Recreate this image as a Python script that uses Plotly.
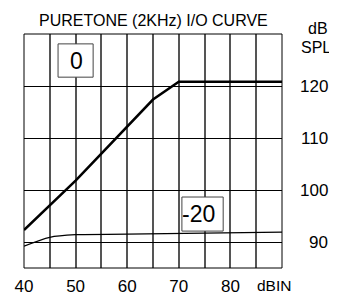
import plotly.graph_objects as go

# ---- data ----
x_in_0 = [40, 50, 65, 70, 90]
y_out_0 = [92.3, 101.8, 117.4, 120.8, 120.8]
x_in_m20 = [40, 45, 50, 60, 90]
y_out_m20 = [89.2, 90.9, 91.4, 91.5, 91.9]
x_ticks = [40, 50, 60, 70, 80]
x_tick_labels = ["40", "50", "60", "70", "80"]
y_ticks = [90, 100, 110, 120]
y_tick_labels = ["90", "100", "110", "120"]
curve_labels = ["0", "-20"]

# page body has an 8px margin, so the figure is laid out 8px up/left of the target
W, H = 329, 287
ml, mr, mt, mb = 16, 55, 26, 27
FONT = "Liberation Sans, Arial, Helvetica, sans-serif"

fig = go.Figure()
fig.add_trace(go.Scatter(x=x_in_0, y=y_out_0, mode="lines",
                         line=dict(color="black", width=2.5), showlegend=False))
fig.add_trace(go.Scatter(x=x_in_m20, y=y_out_m20, mode="lines",
                         line=dict(color="black", width=1.2, shape="spline", smoothing=0.8),
                         showlegend=False))

fig.update_layout(
    width=W, height=H,
    margin=dict(l=ml, r=mr, t=mt, b=mb),
    paper_bgcolor="white", plot_bgcolor="white",
    font=dict(family=FONT, size=16, color="black"),
    xaxis=dict(range=[40, 90], tickvals=x_ticks, ticktext=x_tick_labels,
               ticks="", showgrid=True, gridcolor="#555", gridwidth=1.5,
               minor=dict(dtick=5, tick0=40, showgrid=True, gridcolor="#555", gridwidth=1.5),
               showline=False, zeroline=False, tickfont=dict(size=17),
               ticklabelstandoff=6, automargin=False),
    yaxis=dict(range=[85, 130], tickvals=y_ticks, showticklabels=False, ticks="",
               showgrid=True, gridcolor="black", gridwidth=1,
               zeroline=False, showline=False, automargin=False),
)

# plot border
fig.add_shape(type="rect", xref="x domain", yref="y domain", x0=0, x1=1, y0=0, y1=1,
              line=dict(color="black", width=1), layer="above")

# right-hand value labels, right aligned, positioned on the y scale
for v, t in zip(y_ticks, y_tick_labels):
    fig.add_annotation(text=t, xref="paper", yref="y", x=1, y=v, xanchor="right",
                       xshift=48, showarrow=False, font=dict(size=17))

# label boxes
fig.add_shape(type="rect", xref="x", yref="y", x0=46.6, x1=53.4, y0=121.7, y1=128.1,
              line=dict(color="#444", width=1), fillcolor="white", layer="above")
fig.add_shape(type="rect", xref="x", yref="y", x0=70.6, x1=78.6, y0=92.1, y1=98.65,
              line=dict(color="#444", width=1), fillcolor="white", layer="above")
fig.add_annotation(text=curve_labels[0], xref="x", yref="y", x=50.2, y=124.75,
                   showarrow=False, font=dict(size=23))
fig.add_annotation(text=curve_labels[1], xref="x", yref="y", x=73.9, y=95.3,
                   showarrow=False, font=dict(size=23))

# title and axis captions
fig.add_annotation(text="PURETONE (2KHz) I/O CURVE", xref="x domain", yref="paper",
                   x=0.5, y=1, yanchor="middle", yshift=14, showarrow=False,
                   font=dict(size=16))
fig.add_annotation(text="dB", xref="paper", yref="paper", x=1, y=1, xanchor="center",
                   xshift=36, yanchor="middle", yshift=6, showarrow=False,
                   font=dict(size=16))
fig.add_annotation(text="SPL", xref="paper", yref="paper", x=1, y=1, xanchor="center",
                   xshift=34, yanchor="middle", yshift=-13, showarrow=False,
                   font=dict(size=16))
fig.add_annotation(text="dBIN", xref="x", yref="paper", x=88.45, y=0,
                   yanchor="middle", yshift=-17.5, showarrow=False, font=dict(size=15.5))

fig.write_html("out.html")
